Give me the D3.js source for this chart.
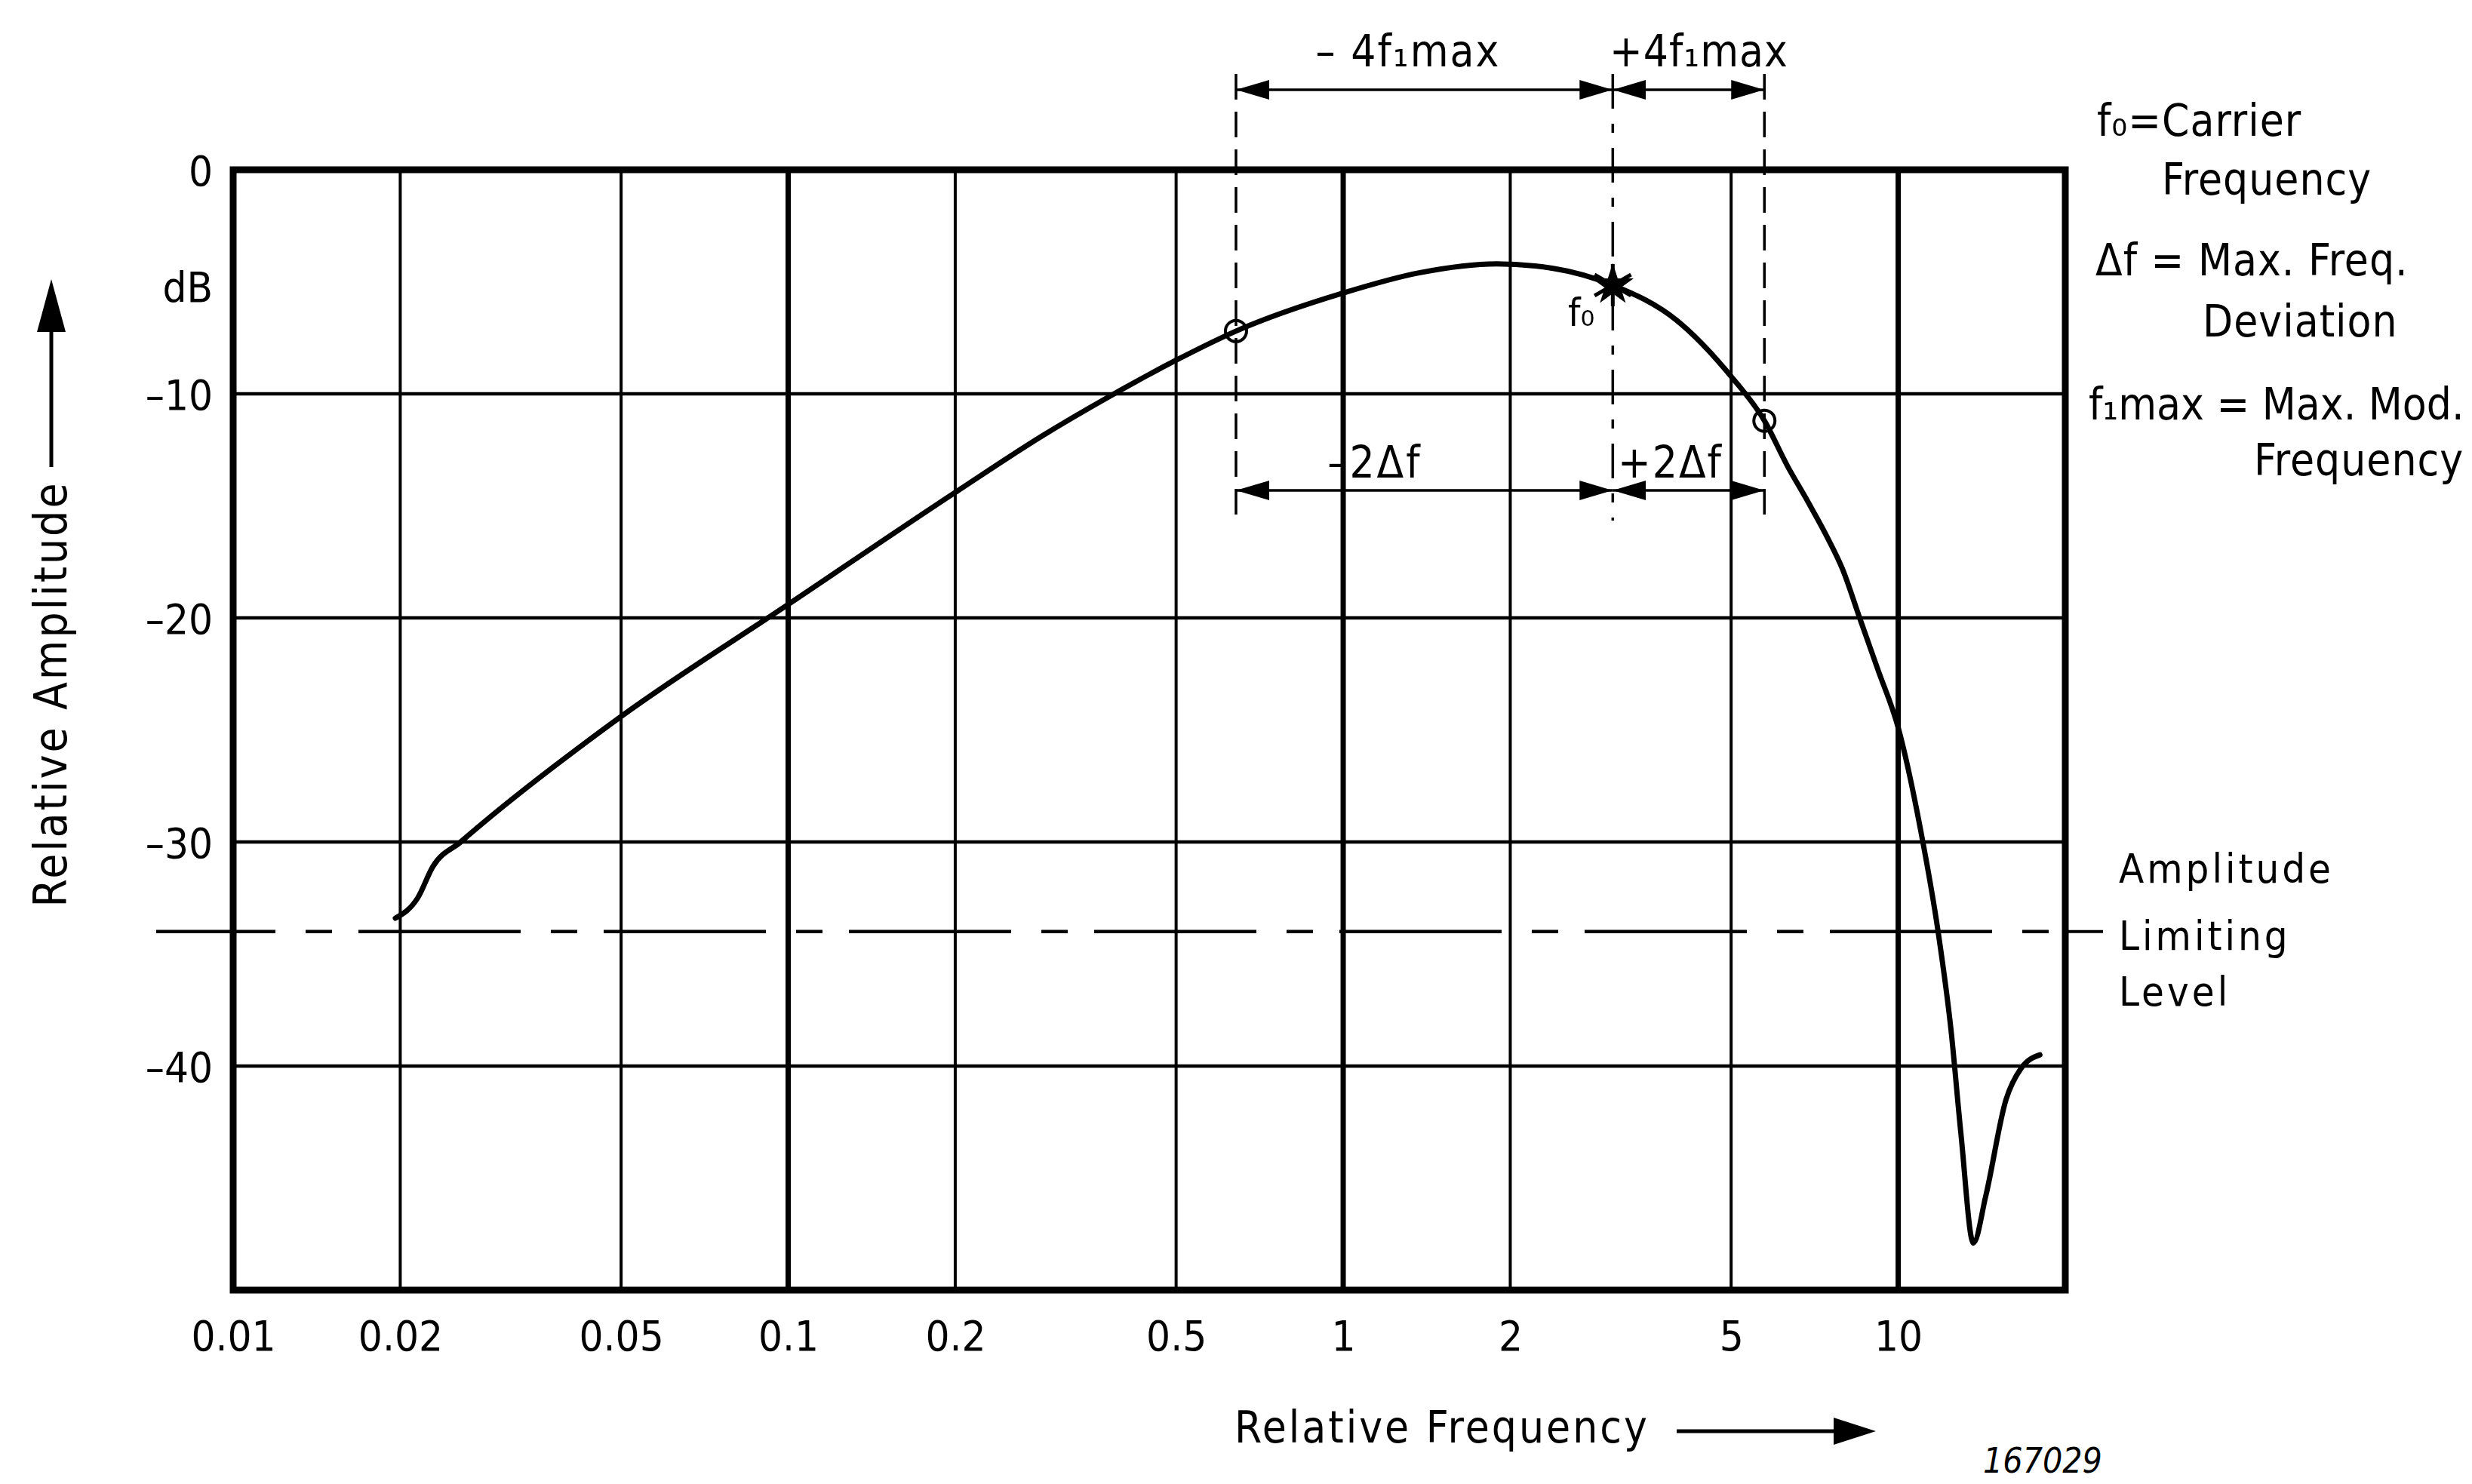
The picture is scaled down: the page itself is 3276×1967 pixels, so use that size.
<!DOCTYPE html>
<html>
<head>
	<meta charset="utf-8">
	<title>Relative Amplitude vs Relative Frequency</title>
	<script src="https://cdn.jsdelivr.net/npm/d3@7"></script>
	<style type="text/css">
		body, html {
			padding: 0;
			margin: 0;
			background: #fff;
		}
		svg {
			display: block;
		}
		text {
			font-family: "DejaVu Sans Condensed", "Liberation Sans Narrow", "DejaVu Sans", sans-serif;
			fill: #000;
		}
	</style>
</head>
<body>
<svg id="Chart"></svg>

<script type="text/javascript">

	// curve: relative frequency -> relative amplitude (dB)
	var freq = [0.0196, 0.0215, 0.0229, 0.0257, 0.05, 0.1, 0.2, 0.288, 0.374, 0.5, 0.641,
		1.0, 1.37, 1.89, 2.39, 3.06, 3.98, 4.99, 5.74, 6.31, 6.87, 7.45, 7.93, 8.55, 9.19, 10,
		11.0, 11.8, 12.45, 12.97, 13.66, 14.38, 15.64, 16.65, 18.0];
	var ampl = [-33.4, -32.5, -31.1, -30.0, -24.4, -19.4, -14.4, -11.85, -10.2, -8.5, -7.2,
		-5.5, -4.6, -4.2, -4.4, -5.15, -6.7, -9.2, -11.2, -13.2, -14.8, -16.4, -17.8, -20.1, -22.3, -24.9,
		-29.6, -34.0, -38.4, -43.0, -47.9, -45.8, -41.5, -40.1, -39.5];

	var xTicks = [0.01, 0.02, 0.05, 0.1, 0.2, 0.5, 1, 2, 5, 10];
	var xTickLabels = ["0.01", "0.02", "0.05", "0.1", "0.2", "0.5", "1", "2", "5", "10"];
	var yTicks = [0, -10, -20, -30, -40];
	var yTickLabels = ["0", "–10", "–20", "–30", "–40"];

	var limitLevel = -34;

	// -2Δf edge, carrier f0, +2Δf edge
	var markFreq = [0.641, 3.06, 5.74];
	var markAmpl = [-7.2, -5.15, -11.2];

	var legendLines = ["f₀=Carrier", "Frequency", "Δf = Max. Freq.", "Deviation", "f₁max = Max. Mod.", "Frequency"];
	var limitLines = ["Amplitude", "Limiting", "Level"];

	var W = 3276, H = 1967;
	// note: "top" is a reserved window property, so use plot* names
	var plotL = 309, plotR = 2737, plotT = 225, plotB = 1710;

	var svg = d3.select("#Chart")
		.attr("width", W)
		.attr("height", H);

	var x = d3.scaleLog().domain([0.01, 20]).range([plotL, plotR]);
	var y = d3.scaleLinear().domain([-50, 0]).range([plotB, plotT]);

	var defs = svg.append("defs");
	defs.append("marker")
		.attr("id", "dimArrow")
		.attr("viewBox", "0 0 44 26")
		.attr("refX", 44)
		.attr("refY", 13)
		.attr("markerWidth", 44)
		.attr("markerHeight", 26)
		.attr("markerUnits", "userSpaceOnUse")
		.attr("orient", "auto-start-reverse")
	  .append("path")
		.attr("d", "M0,0 L44,13 L0,26 Z")
		.attr("fill", "#000");

	// grid
	svg.append("g").selectAll("line")
		.data(xTicks.slice(1))
	  .enter().append("line")
		.attr("x1", function(d) { return x(d); })
		.attr("x2", function(d) { return x(d); })
		.attr("y1", plotT)
		.attr("y2", plotB)
		.attr("stroke", "#000")
		.attr("stroke-width", function(d) {
			return (d === 0.1 || d === 1 || d === 10) ? 7 : 4;
		});

	svg.append("g").selectAll("line")
		.data(yTicks.slice(1))
	  .enter().append("line")
		.attr("x1", plotL)
		.attr("x2", plotR)
		.attr("y1", function(d) { return y(d); })
		.attr("y2", function(d) { return y(d); })
		.attr("stroke", "#000")
		.attr("stroke-width", 4.5);

	// amplitude limiting level (dash-dot) plus leader to its label
	svg.append("line")
		.attr("x1", 207)
		.attr("x2", plotR)
		.attr("y1", y(limitLevel))
		.attr("y2", y(limitLevel))
		.attr("stroke", "#000")
		.attr("stroke-width", 4.5)
		.attr("stroke-dasharray", "215,40,35,35")
		.attr("stroke-dashoffset", 57);
	svg.append("line")
		.attr("x1", plotR)
		.attr("x2", plotR + 50)
		.attr("y1", y(limitLevel))
		.attr("y2", y(limitLevel))
		.attr("stroke", "#000")
		.attr("stroke-width", 4);

	// frame
	svg.append("rect")
		.attr("x", plotL)
		.attr("y", plotT)
		.attr("width", plotR - plotL)
		.attr("height", plotB - plotT)
		.attr("fill", "none")
		.attr("stroke", "#000")
		.attr("stroke-width", 9);

	// x axis labels
	var xAxis = d3.axisBottom(x)
		.tickValues(xTicks)
		.tickFormat(function(d, i) { return xTickLabels[i]; })
		.tickSize(0)
		.tickPadding(0);
	var gx = svg.append("g")
		.attr("transform", "translate(0," + 1790 + ")")
		.call(xAxis);
	gx.select(".domain").remove();
	gx.attr("font-family", null).attr("font-size", null);
	gx.selectAll("text")
		.attr("dy", 0)
		.attr("y", 0)
		.style("font-size", "56px");

	// y axis labels
	var yAxis = d3.axisLeft(y)
		.tickValues(yTicks)
		.tickFormat(function(d, i) { return yTickLabels[i]; })
		.tickSize(0)
		.tickPadding(0);
	var gy = svg.append("g")
		.attr("transform", "translate(" + 282 + ",0)")
		.call(yAxis);
	gy.select(".domain").remove();
	gy.attr("font-family", null).attr("font-size", null);
	gy.selectAll("text")
		.attr("dy", "0.36em")
		.style("font-size", "56px");
	svg.append("text")
		.attr("x", 282)
		.attr("y", y(-5.2))
		.attr("dy", "0.36em")
		.attr("text-anchor", "end")
		.style("font-size", "56px")
		.text("dB");

	// axis titles with arrows
	svg.append("text")
		.attr("transform", "translate(88," + 920 + ") rotate(-90)")
		.attr("text-anchor", "middle")
		.style("font-size", "60px")
		.style("letter-spacing", "3px")
		.text("Relative Amplitude");
	svg.append("line")
		.attr("x1", 68).attr("x2", 68)
		.attr("y1", 619).attr("y2", 430)
		.attr("stroke", "#000")
		.attr("stroke-width", 5);
	svg.append("path")
		.attr("d", "M68,370 L49,440 L87,440 Z")
		.attr("fill", "#000");

	svg.append("text")
		.attr("x", 1636)
		.attr("y", 1912)
		.style("font-size", "58px")
		.style("letter-spacing", "3px")
		.text("Relative Frequency");
	svg.append("line")
		.attr("x1", 2222).attr("x2", 2440)
		.attr("y1", 1897).attr("y2", 1897)
		.attr("stroke", "#000")
		.attr("stroke-width", 5);
	svg.append("path")
		.attr("d", "M2486,1897 L2430,1879 L2430,1915 Z")
		.attr("fill", "#000");

	// curve
	var pts = freq.map(function(f, i) { return [f, ampl[i]]; });
	var line = d3.line()
		.x(function(d) { return x(d[0]); })
		.y(function(d) { return y(d[1]); })
		.curve(d3.curveMonotoneX);
	svg.append("path")
		.datum(pts)
		.attr("d", line)
		.attr("fill", "none")
		.attr("stroke", "#000")
		.attr("stroke-width", 7)
		.attr("stroke-linejoin", "round")
		.attr("stroke-linecap", "round");

	// extension lines for the dimension arrows
	svg.append("g").selectAll("line")
		.data(markFreq)
	  .enter().append("line")
		.attr("x1", function(d) { return x(d); })
		.attr("x2", function(d) { return x(d); })
		.attr("y1", 98)
		.attr("y2", 690)
		.attr("stroke", "#000")
		.attr("stroke-width", 3.5)
		.attr("stroke-dasharray", function(d, i) { return i === 1 ? "46,20,12,20" : "34,16"; });

	// dimension arrows
	function dimArrow(f1, f2, yy) {
		svg.append("line")
			.attr("x1", x(f1)).attr("x2", x(f2))
			.attr("y1", yy).attr("y2", yy)
			.attr("stroke", "#000")
			.attr("stroke-width", 3.5)
			.attr("marker-start", "url(#dimArrow)")
			.attr("marker-end", "url(#dimArrow)");
	}
	dimArrow(markFreq[0], markFreq[1], 119);
	dimArrow(markFreq[1], markFreq[2], 119);
	dimArrow(markFreq[0], markFreq[1], 650);
	dimArrow(markFreq[1], markFreq[2], 650);

	svg.append("text").attr("x", 1866).attr("y", 88).attr("text-anchor", "middle")
		.style("font-size", "58px").style("letter-spacing", "2px").text("– 4f₁max");
	svg.append("text").attr("x", 2133).attr("y", 88)
		.style("font-size", "58px").style("letter-spacing", "1px").text("+4f₁max");
	svg.append("text").attr("x", 1822).attr("y", 633).attr("text-anchor", "middle")
		.style("font-size", "58px").style("letter-spacing", "3px").text("–2Δf");
	svg.append("text").attr("x", 2144).attr("y", 633)
		.style("font-size", "58px").style("letter-spacing", "2px").text("+2Δf");

	// markers on the curve
	svg.append("g").selectAll("circle")
		.data([0, 2])
	  .enter().append("circle")
		.attr("cx", function(i) { return x(markFreq[i]); })
		.attr("cy", function(i) { return y(markAmpl[i]); })
		.attr("r", 14)
		.attr("fill", "none")
		.attr("stroke", "#000")
		.attr("stroke-width", 4);

	var fx = x(markFreq[1]), fy = y(markAmpl[1]);
	svg.append("path")
		.attr("transform", "translate(" + fx + "," + fy + ")")
		.attr("d", d3.symbol().type(d3.symbolStar).size(950)())
		.attr("fill", "#000");
	svg.append("path")
		.attr("transform", "translate(" + fx + "," + fy + ")")
		.attr("d", d3.symbol().type(d3.symbolAsterisk).size(2200)())
		.attr("fill", "none")
		.attr("stroke", "#000")
		.attr("stroke-width", 5);
	svg.append("text")
		.attr("x", 2078)
		.attr("y", 432)
		.style("font-size", "52px")
		.text("f₀");

	// legend on the right
	var legendX = [2779, 2865, 2777, 2919, 2768, 2987];
	var legendY = [180, 258, 365, 446, 556, 630];
	svg.append("g").selectAll("text")
		.data(legendLines)
	  .enter().append("text")
		.attr("x", function(d, i) { return legendX[i]; })
		.attr("y", function(d, i) { return legendY[i]; })
		.style("font-size", "58px")
		.style("letter-spacing", function(d, i) { return i === 4 ? "0px" : "1px"; })
		.text(function(d) { return d; });

	var limitY = [1170, 1259, 1333];
	svg.append("g").selectAll("text")
		.data(limitLines)
	  .enter().append("text")
		.attr("x", 2808)
		.attr("y", function(d, i) { return limitY[i]; })
		.style("font-size", "54px")
		.style("letter-spacing", "4px")
		.text(function(d) { return d; });

	// drawing number
	svg.append("text")
		.attr("x", 2628)
		.attr("y", 1952)
		.style("font-size", "46px")
		.style("font-style", "italic")
		.text("167029");

</script>
</body>
</html>
